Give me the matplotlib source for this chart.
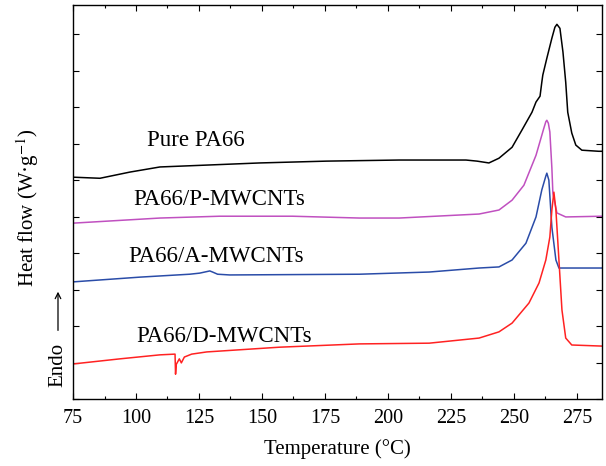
import matplotlib.pyplot as plt
from matplotlib.ticker import MultipleLocator

plt.rcParams['font.family'] = ['Liberation Serif', 'DejaVu Serif']
plt.rcParams['mathtext.fontset'] = 'stix'

# DSC heating curves, temperature (°C) vs. stacked heat flow (a.u.)
pure_T = [75, 85.7, 97.6, 109.5, 149.1, 175.6, 204.5, 231.0, 235.4, 240.1, 244.1,
          249.3, 253.2, 257.2, 258.8, 260.4, 261.1, 261.5, 263.1, 265.1, 266.3,
          267.1, 268.3, 269.5, 270.6, 271.4, 273.0, 274.6, 277.0, 283.7, 285]
pure_hf = [6.08, 6.05, 6.22, 6.36, 6.47, 6.52, 6.55, 6.55, 6.52, 6.47, 6.60,
           6.90, 7.37, 7.86, 8.14, 8.30, 8.68, 8.88, 9.34, 9.89, 10.19,
           10.27, 10.16, 9.51, 8.68, 7.86, 7.29, 6.96, 6.82, 6.79, 6.79]

p_T = [75, 109.5, 133.2, 162.1, 188.7, 204.5, 236.2, 244.1, 249.3, 254.0, 258.8,
       261.9, 262.7, 263.1, 263.7, 264.3, 265.1, 265.5, 267.1, 270.6, 285]
p_hf = [4.82, 4.96, 5.01, 5.01, 4.96, 4.96, 5.07, 5.18, 5.45, 5.86, 6.68,
        7.42, 7.60, 7.64, 7.56, 7.32, 6.33, 5.64, 5.10, 4.99, 5.01]

a_T = [75, 101.5, 121.3, 125.3, 129.3, 130.4, 132.4, 137.2, 188.7, 216.4, 236.2,
       244.1, 249.3, 254.8, 258.8, 261.1, 262.7, 263.1, 263.9, 265.1, 266.7,
       267.9, 285]
a_hf = [3.21, 3.34, 3.42, 3.45, 3.51, 3.48, 3.42, 3.40, 3.42, 3.48, 3.59,
        3.62, 3.81, 4.27, 4.99, 5.73, 6.11, 6.19, 6.00, 4.71, 3.81,
        3.59, 3.59]

d_T = [75, 93.6, 109.5, 115.5, 115.7, 116.0, 117.2, 118.0, 119.2, 122.1, 128.1,
       157.0, 188.7, 216.4, 236.2, 244.1, 249.3, 256.0, 260.0, 262.7, 264.3,
       265.1, 265.9, 266.7, 267.9, 269.1, 270.6, 273.0, 285]
d_hf = [0.96, 1.10, 1.21, 1.23, 0.68, 0.95, 1.10, 0.99, 1.15, 1.23, 1.29,
        1.42, 1.51, 1.53, 1.67, 1.84, 2.08, 2.63, 3.18, 3.81, 4.44,
        5.18, 5.67, 5.18, 3.81, 2.44, 1.67, 1.48, 1.45]

names = ['Pure PA66', 'PA66/P-MWCNTs', 'PA66/A-MWCNTs', 'PA66/D-MWCNTs']
colors = ['black', '#c050c0', '#2a4ca8', '#ff2222']
label_xy = [(104.3, 6.93), (98.8, 5.32), (96.8, 3.75), (100.3, 1.56)]

fig = plt.figure(figsize=(6.06, 4.66), dpi=100)
ax = fig.add_axes([0.1205, 0.1438, 0.8729, 0.8455])

for T, hf, c in zip([pure_T, p_T, a_T, d_T], [pure_hf, p_hf, a_hf, d_hf], colors):
    ax.plot(T, hf, color=c, lw=1.1)

for name, (x, y) in zip(names, label_xy):
    ax.text(x, y, name, fontsize=16.5, ha='left', va='baseline')

ax.set_xlim(75, 285)
ax.set_ylim(0, 10.8)
ax.xaxis.set_major_locator(MultipleLocator(25))
ax.xaxis.set_minor_locator(MultipleLocator(12.5))
ax.yaxis.set_major_locator(MultipleLocator(1))
ax.set_yticklabels([])
ax.tick_params(which='both', direction='in', top=True, right=True, width=0.8)
ax.tick_params(which='major', length=4, labelsize=14.5, pad=7)
ax.tick_params(which='minor', length=2.5)
for s in ax.spines.values():
    s.set_linewidth(1.0)

ax.set_xlabel('Temperature (°C)', fontsize=15, labelpad=8)
fig.text(0.046, 0.554, 'Heat flow (W·g$^{-1}$)', rotation=90, fontsize=15,
         ha='center', va='center')
fig.text(0.0957, 0.217, 'Endo', rotation=90, fontsize=15, ha='center', va='center')
ax.annotate('', xy=(0.0957, 0.380), xytext=(0.0957, 0.285),
            xycoords='figure fraction', textcoords='figure fraction',
            arrowprops=dict(arrowstyle='->', lw=0.9, color='black'))

fig.savefig('out.png', dpi=100)
